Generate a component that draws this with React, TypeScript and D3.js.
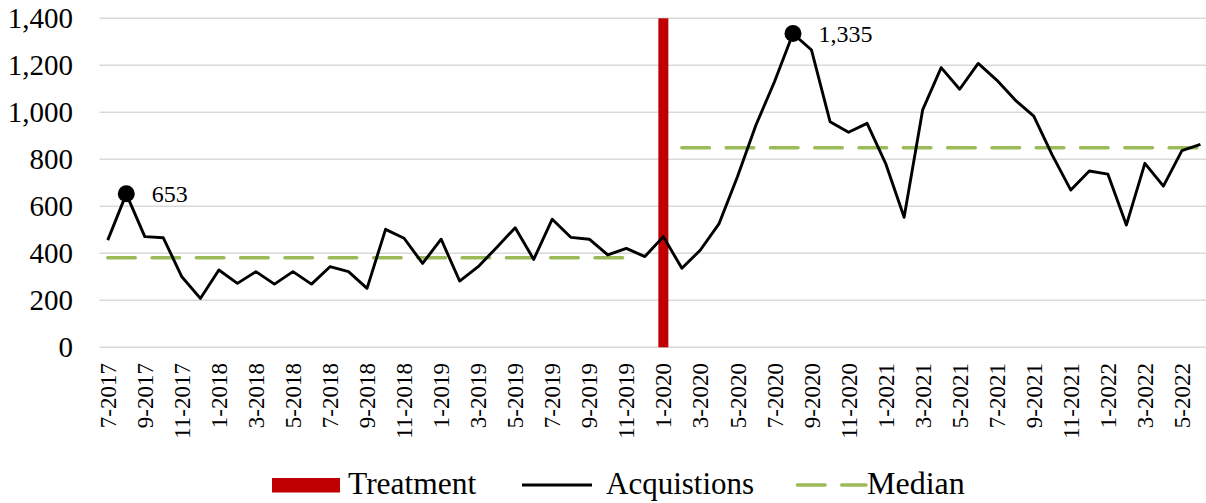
import React from "react";
import * as d3 from "d3";

const months: string[] = [
  "7-2017","8-2017","9-2017","10-2017","11-2017","12-2017",
  "1-2018","2-2018","3-2018","4-2018","5-2018","6-2018","7-2018","8-2018","9-2018","10-2018","11-2018","12-2018",
  "1-2019","2-2019","3-2019","4-2019","5-2019","6-2019","7-2019","8-2019","9-2019","10-2019","11-2019","12-2019",
  "1-2020","2-2020","3-2020","4-2020","5-2020","6-2020","7-2020","8-2020","9-2020","10-2020","11-2020","12-2020",
  "1-2021","2-2021","3-2021","4-2021","5-2021","6-2021","7-2021","8-2021","9-2021","10-2021","11-2021","12-2021",
  "1-2022","2-2022","3-2022","4-2022","5-2022","6-2022",
];

const acquisitions: number[] = [
  456, 653, 471, 466, 300, 208,
  329, 272, 322, 269, 322, 269, 343, 322, 251, 502, 464, 357,
  460, 282, 343, 425, 509, 374, 545, 468, 460, 393, 421, 386,
  471, 336, 414, 525, 726, 946, 1130, 1335, 1265, 960, 915, 953,
  783, 553, 1010, 1190, 1098, 1208, 1137, 1052, 984, 818, 669, 750,
  737, 520, 783, 686, 837, 864,
];

const medianPre: (number | null)[] = months.map((_, i) => (i <= 28 ? 381 : null));
const medianPost: (number | null)[] = months.map((_, i) => (i >= 31 ? 849 : null));
const treatmentMonth = "1-2020";
const treatmentValue = 1400;
const labeledMonths = ["8-2017", "8-2020"];
const yTicks = [0, 200, 400, 600, 800, 1000, 1200, 1400];
const legendItems = ["Treatment", "Acquistions", "Median"];

const W = 1206;
const H = 503;
const FONT = "'Liberation Serif', 'Times New Roman', serif";
const RED = "#C00000";
const GREEN = "#9BBB59";
const GRID = "#D9D9D9";

export default function App() {
  const x = d3.scaleBand<string>().domain(months).range([98.5, 1209.7]).paddingInner(0).paddingOuter(0);
  const cx = (m: string) => (x(m) as number) + x.bandwidth() / 2;
  const y = d3.scaleLinear().domain([0, 1400]).range([347.3, 18.3]);

  const line = d3
    .line<number>()
    .x((_, i) => cx(months[i]))
    .y((d) => y(d));

  const medLine = d3
    .line<number | null>()
    .defined((d) => d !== null)
    .x((_, i) => cx(months[i]))
    .y((d) => y(d as number));

  const fmt = d3.format(",");
  const barW = 10;

  return (
    <svg width={W} height={H} style={{ position: "absolute", left: 0, top: 0, background: "#fff" }} fontFamily={FONT}>
      {/* grid */}
      {yTicks.map((t) => (
        <line key={t} x1={99.5} x2={W} y1={y(t)} y2={y(t)} stroke={GRID} strokeWidth={1.6} />
      ))}
      {/* y labels */}
      {yTicks.map((t) => (
        <text key={"yl" + t} x={73} y={y(t)} dy="0.35em" textAnchor="end" fontSize={29} fill="#000">
          {fmt(t)}
        </text>
      ))}
      {/* x labels */}
      {months.map((m, i) =>
        i % 2 === 0 ? (
          <text
            key={"xl" + m}
            transform={`translate(${cx(m)},363) rotate(-90)`}
            dy="0.35em"
            textAnchor="end"
            fontSize={23}
            fill="#000"
          >
            {m}
          </text>
        ) : null
      )}
      {/* treatment bar */}
      <rect
        x={cx(treatmentMonth) - barW / 2}
        y={y(treatmentValue)}
        width={barW}
        height={y(0) - y(treatmentValue)}
        fill={RED}
      />
      {/* medians */}
      <path d={medLine(medianPre) || ""} fill="none" stroke={GREEN} strokeWidth={3.6} strokeDasharray="27.5 16.8" strokeLinecap="round" />
      <path d={medLine(medianPost) || ""} fill="none" stroke={GREEN} strokeWidth={3.6} strokeDasharray="27.5 16.8" strokeLinecap="round" />
      {/* acquisitions */}
      <path d={line(acquisitions) || ""} fill="none" stroke="#000" strokeWidth={2.9} strokeLinejoin="round" />
      {labeledMonths.map((m) => {
        const i = months.indexOf(m);
        const v = acquisitions[i];
        return (
          <g key={"lab" + m}>
            <circle cx={cx(m)} cy={y(v)} r={8.5} fill="#000" />
            <text x={cx(m) + 25.5} y={y(v)} dy="0.35em" fontSize={24} fill="#000">
              {fmt(v)}
            </text>
          </g>
        );
      })}
      {/* legend */}
      <rect x={272} y={478} width={68} height={14.5} fill={RED} />
      <text x={348} y={494} fontSize={31.5} fill="#000">{legendItems[0]}</text>
      <line x1={522} x2={592} y1={485} y2={485} stroke="#000" strokeWidth={2.9} />
      <text x={606} y={494} fontSize={31} fill="#000">{legendItems[1]}</text>
      <line x1={797.5} x2={866} y1={485} y2={485} stroke={GREEN} strokeWidth={3.6} strokeDasharray="27.5 16.8" strokeLinecap="round" />
      <text x={867} y={494} fontSize={32} fill="#000">{legendItems[2]}</text>
    </svg>
  );
}
